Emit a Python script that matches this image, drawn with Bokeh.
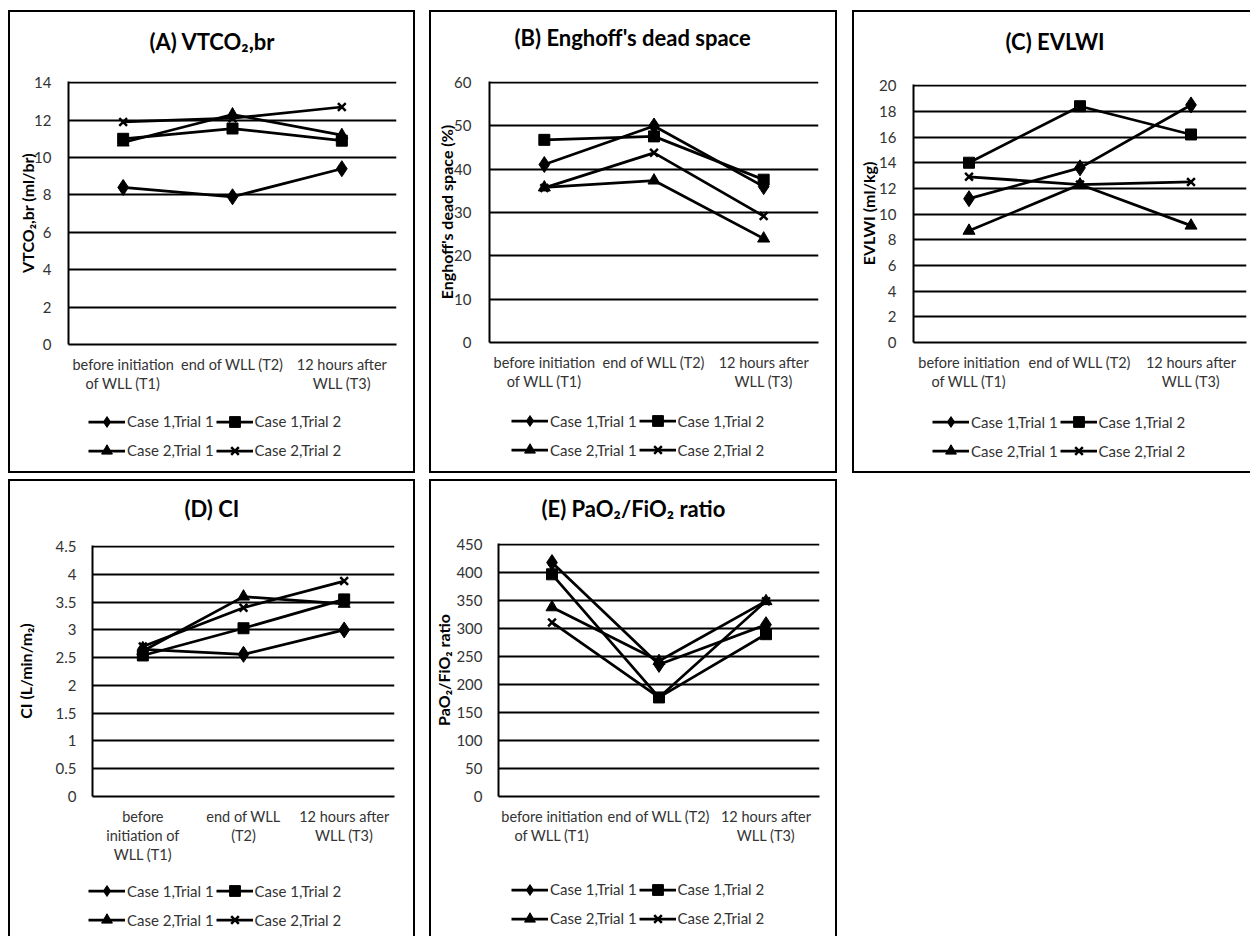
from bokeh.plotting import figure
from bokeh.layouts import row, column
from bokeh.models import (FactorRange, Range1d, FixedTicker, NumeralTickFormatter, Title,
                          Legend, LegendItem)
from bokeh.embed import file_html
from bokeh.resources import INLINE

# ---------------- data ----------------
series_names = ["Case 1,Trial 1", "Case 1,Trial 2", "Case 2,Trial 1", "Case 2,Trial 2"]
series_markers = ["diamond", "square", "triangle", "x"]

time_labels_two_line = ["before initiation\nof WLL (T1)", "end of WLL (T2)", "12 hours after\nWLL (T3)"]
time_labels_three_line = ["before\ninitiation of\nWLL (T1)", "end of WLL\n(T2)", "12 hours after\nWLL (T3)"]

# (A) VTCO2,br
vtco2_case1_trial1 = [8.4, 7.9, 9.4]
vtco2_case1_trial2 = [11.0, 11.55, 10.9]
vtco2_case2_trial1 = [10.8, 12.3, 11.2]
vtco2_case2_trial2 = [11.9, 12.1, 12.7]
vtco2_ticks = [0, 2, 4, 6, 8, 10, 12, 14]

# (B) Enghoff's dead space
dead_case1_trial1 = [41.1, 50.0, 36.0]
dead_case1_trial2 = [46.8, 47.6, 37.6]
dead_case2_trial1 = [35.8, 37.4, 24.0]
dead_case2_trial2 = [35.7, 43.8, 29.2]
dead_ticks = [0, 10, 20, 30, 40, 50, 60]

# (C) EVLWI
evlwi_case1_trial1 = [11.2, 13.6, 18.5]
evlwi_case1_trial2 = [14.0, 18.4, 16.2]
evlwi_case2_trial1 = [8.7, 12.3, 9.1]
evlwi_case2_trial2 = [12.9, 12.3, 12.5]
evlwi_ticks = [0, 2, 4, 6, 8, 10, 12, 14, 16, 18, 20]

# (D) CI
ci_case1_trial1 = [2.65, 2.56, 3.0]
ci_case1_trial2 = [2.54, 3.03, 3.55]
ci_case2_trial1 = [2.62, 3.6, 3.47]
ci_case2_trial2 = [2.7, 3.4, 3.88]
ci_ticks = [0, 0.5, 1, 1.5, 2, 2.5, 3, 3.5, 4, 4.5]

# (E) PaO2/FiO2 ratio
pf_case1_trial1 = [418, 236, 307]
pf_case1_trial2 = [397, 177, 290]
pf_case2_trial1 = [338, 242, 349]
pf_case2_trial2 = [311, 177, 349]
pf_ticks = [0, 50, 100, 150, 200, 250, 300, 350, 400, 450]

FONT = "Lato"
TEXT_COLOR = "#333333"
MARKER_SIZE = {"diamond": 16, "square": 11, "triangle": 12, "x": 11}


def no_frame_align(p):
    try:
        p.frame_align = False
    except Exception:
        pass


def add_series(p, xs, ys, marker):
    r1 = p.line(x=xs, y=ys, line_color="black", line_width=2.75)
    r2 = p.scatter(x=xs, y=ys, marker=marker, size=MARKER_SIZE[marker], fill_color="black",
                   line_color="black", line_width=2.5 if marker == "x" else 1)
    return [r1, r2]


def make_chart(title, ylabel, ticks, series, xlabels, cfg):
    ymax = ticks[-1]
    pad = ymax * 1.2 / 263.0
    p = figure(width=cfg["w"], height=cfg["h"], x_range=FactorRange(factors=xlabels, range_padding=0),
               y_range=Range1d(0, ymax + pad), output_backend="svg", toolbar_location=None, tools="",
               min_border_left=cfg["ml"], min_border_right=cfg["mr"],
               min_border_top=cfg["mt"], min_border_bottom=cfg["mb"],
               margin=cfg["margin"], styles={"box-shadow": cfg["shadow"]})
    no_frame_align(p)
    p.outline_line_color = None
    p.background_fill_color = "white"
    p.border_fill_color = "white"

    # spacer (closest to the frame) + visible title above it
    p.add_layout(Title(text=" ", text_font_size="10px", standoff=cfg["tgap"]), "above")
    p.add_layout(Title(text=title, align="left", offset=cfg["toff"], standoff=0,
                       text_font=FONT, text_font_size="22px", text_font_style="bold",
                       text_color="black"), "above")

    p.xgrid.grid_line_color = None
    p.ygrid.grid_line_color = "black"
    p.ygrid.grid_line_width = 2
    p.yaxis.ticker = FixedTicker(ticks=ticks)
    p.yaxis.formatter = NumeralTickFormatter(format="0.[0]")

    for ax in (p.xaxis, p.yaxis):
        ax.axis_line_color = "black"
        ax.axis_line_width = 2
        ax.major_tick_line_color = None
        ax.minor_tick_line_color = None
        ax.major_label_text_font = FONT
        ax.major_label_text_font_size = "15px"
        ax.major_label_text_color = TEXT_COLOR

    p.xaxis.major_label_text_font_size = "14.5px"
    p.yaxis.major_label_standoff = cfg["yls"]
    p.yaxis.axis_label = ylabel
    p.yaxis.axis_label_text_font = FONT
    p.yaxis.axis_label_text_font_size = "16px"
    p.yaxis.axis_label_text_font_style = "bold"
    p.yaxis.axis_label_text_color = "black"
    p.yaxis.axis_label_standoff = cfg["als"]

    p.xaxis.major_label_standoff = 5
    p.xaxis.major_label_text_line_height = 1.13

    for marker, vals in zip(series_markers, series):
        add_series(p, xlabels, vals, marker)
    return p


def make_legend_box(series, xlabels, cfg):
    # legend strip below the chart; its renderers carry the same series but the
    # y range is chosen so that only the legend samples are visible
    p = figure(width=cfg["w"], height=cfg["lh"], x_range=FactorRange(factors=xlabels, range_padding=0),
               y_range=Range1d(-2, -1), x_axis_type=None, y_axis_type=None, output_backend="svg",
               toolbar_location=None, tools="", min_border=0,
               min_border_left=0, min_border_right=0, min_border_top=0, min_border_bottom=0,
               margin=cfg["lmargin"], styles={"box-shadow": cfg["lshadow"]})
    no_frame_align(p)
    p.outline_line_color = None
    p.background_fill_color = "white"
    p.border_fill_color = "white"
    p.grid.visible = False
    items = []
    for name, marker, vals in zip(series_names, series_markers, series):
        items.append(LegendItem(label=name, renderers=add_series(p, xlabels, vals, marker)))
    lg = Legend(items=items, location=(cfg["lgx"], cfg["lgy"]), orientation="horizontal", ncols=2,
                padding=0, margin=0, spacing=2, glyph_width=37, glyph_height=27,
                label_height=27, label_standoff=2, label_text_font=FONT,
                label_text_font_size="15px", label_text_color=TEXT_COLOR,
                background_fill_alpha=0, border_line_color=None)
    p.add_layout(lg, "center")
    return p


TOP_SIDES = "-2px -2px 0 0 black, 2px -2px 0 0 black, -2px 0 0 0 black, 2px 0 0 0 black"
BOTTOM_SIDES = "-2px 2px 0 0 black, 2px 2px 0 0 black, -2px 0 0 0 black, 2px 0 0 0 black"
TOP_LEFT = "-2px -2px 0 0 black, -2px 0 0 0 black"
BOTTOM_LEFT = "-2px 2px 0 0 black, -2px 0 0 0 black"
SIDES_ONLY = "-2px 0 0 0 black, 2px 0 0 0 black"


def make_panel(title, ylabel, ticks, series, xlabels, cfg):
    chart = make_chart(title, ylabel, ticks, series, xlabels, cfg)
    box = make_legend_box(series, xlabels, cfg)
    return column(chart, box)


pa = make_panel("(A) VTCO\u2082,br", "VTCO\u2082,br (ml/br)", vtco2_ticks,
                [vtco2_case1_trial1, vtco2_case1_trial2, vtco2_case2_trial1, vtco2_case2_trial2],
                time_labels_two_line,
                dict(w=403, h=390, ml=58, mr=17, mt=69, mb=58, tgap=14, toff=81, yls=11, als=-6,
                     margin=(12, 0, 0, 10), shadow=TOP_SIDES,
                     lh=69, lgx=78, lgy=7.5, lmargin=(0, 0, 0, 10), lshadow=BOTTOM_SIDES))
pb = make_panel("(B) Enghoff's dead space", "Enghoff's dead space (%)", dead_ticks,
                [dead_case1_trial1, dead_case1_trial2, dead_case2_trial1, dead_case2_trial2],
                time_labels_two_line,
                dict(w=404, h=390, ml=58, mr=17, mt=69, mb=60, tgap=18, toff=25, yls=12, als=-5,
                     margin=(12, 0, 0, 18), shadow=TOP_SIDES,
                     lh=69, lgx=80, lgy=7.8, lmargin=(0, 0, 0, 18), lshadow=BOTTOM_SIDES))
pc = make_panel("(C) EVLWI", "EVLWI (ml/kg)", evlwi_ticks,
                [evlwi_case1_trial1, evlwi_case1_trial2, evlwi_case2_trial1, evlwi_case2_trial2],
                time_labels_two_line,
                dict(w=398, h=390, ml=59, mr=6, mt=72, mb=60, tgap=17, toff=92, yls=11, als=-2,
                     margin=(12, 0, 0, 19), shadow=TOP_LEFT,
                     lh=69, lgx=78, lgy=6.8, lmargin=(0, 0, 0, 19), lshadow=BOTTOM_LEFT))
pd_ = make_panel("(D) CI", "CI (L/min/m\u2082)", ci_ticks,
                 [ci_case1_trial1, ci_case1_trial2, ci_case2_trial1, ci_case2_trial2],
                 time_labels_three_line,
                 dict(w=403, h=389, ml=82, mr=19, mt=64, mb=74, tgap=11, toff=92, yls=10, als=18,
                      margin=(10, 0, 0, 10), shadow=TOP_SIDES,
                      lh=66, lgx=78, lgy=2.8, lmargin=(0, 0, 0, 10), lshadow=SIDES_ONLY))
pe = make_panel("(E) PaO\u2082/FiO\u2082 ratio", "PaO\u2082/FiO\u2082 ratio", pf_ticks,
                [pf_case1_trial1, pf_case1_trial2, pf_case2_trial1, pf_case2_trial2],
                time_labels_two_line,
                dict(w=404, h=389, ml=66, mr=16, mt=62, mb=74, tgap=9, toff=43, yls=10, als=0,
                     margin=(10, 0, 0, 18), shadow=TOP_SIDES,
                     lh=66, lgx=80, lgy=4.5, lmargin=(0, 0, 0, 18), lshadow=SIDES_ONLY))

layout = column(row(pa, pb, pc), row(pd_, pe))
open("out.html", "w").write(file_html(layout, INLINE))
